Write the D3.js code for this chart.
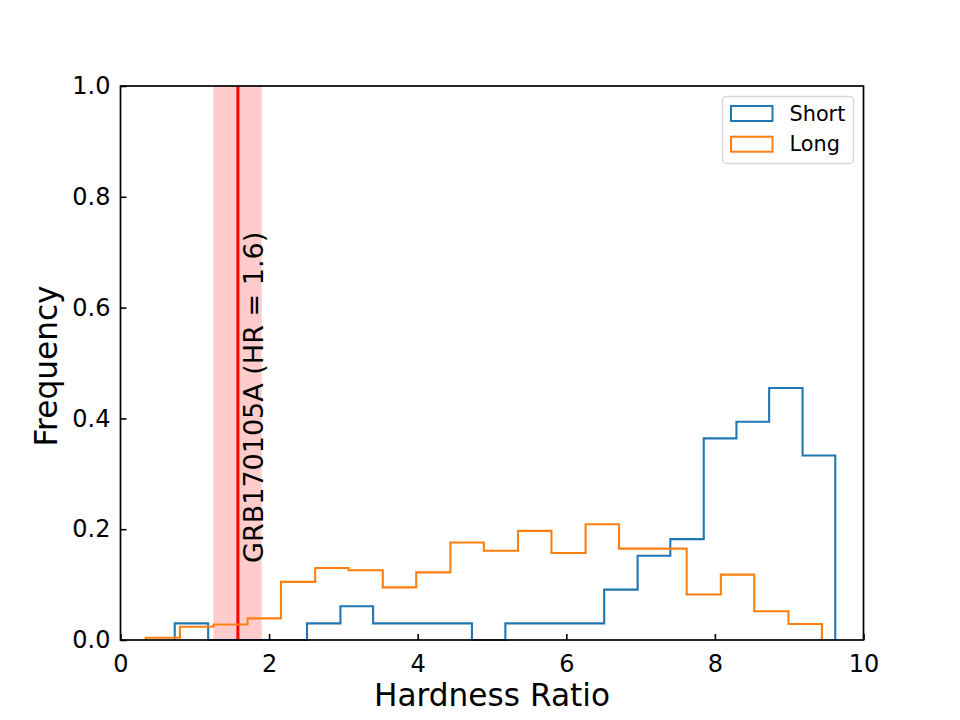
<!DOCTYPE html>
<html>
<head>
<meta charset="utf-8">
<script src="https://cdn.jsdelivr.net/npm/d3@7"></script>
<style>
  body { margin: 0; background: #fff; }
  svg text { font-family: "DejaVu Sans", sans-serif; fill: #000; }
</style>
</head>
<body>
<div class="chart"></div>
<script>
// data
var shortEdges = [0.73, 1.18, 1.62, 2.07, 2.51, 2.96, 3.40, 3.85, 4.29, 4.73, 5.18,
                  5.62, 6.07, 6.51, 6.96, 7.40, 7.85, 8.29, 8.73, 9.18, 9.62];
var shortFreq = [0.030, 0, 0, 0, 0.030, 0.061, 0.030, 0.030, 0.030, 0,
                 0.030, 0.030, 0.030, 0.091, 0.152, 0.182, 0.364, 0.394, 0.455, 0.333];

var longEdges = [0.34, 0.80, 1.25, 1.71, 2.16, 2.62, 3.07, 3.53, 3.98, 4.44, 4.89,
                 5.35, 5.80, 6.26, 6.71, 7.17, 7.62, 8.08, 8.53, 8.99, 9.44];
var longFreq = [0.004, 0.024, 0.028, 0.039, 0.105, 0.130, 0.126, 0.095, 0.122, 0.176,
                0.161, 0.197, 0.157, 0.209, 0.165, 0.165, 0.082, 0.118, 0.052, 0.029];

var grbHR = 1.58;
var grbBand = [1.25, 1.90];
var grbLabel = "GRB170105A (HR = 1.6)";

var xTicks = [0, 2, 4, 6, 8, 10];
var yTicks = [0, 0.2, 0.4, 0.6, 0.8, 1.0];

var series = [
  { name: "Short", edges: shortEdges, values: shortFreq, color: "#1f77b4" },
  { name: "Long", edges: longEdges, values: longFreq, color: "#ff7f0e" }
];

// chart set up
var svgWidth = 960;
var svgHeight = 720;
var margin = { top: 86, right: 96.5, bottom: 80, left: 120.5 };
var width = svgWidth - margin.left - margin.right;
var height = svgHeight - margin.top - margin.bottom;

var svg = d3.select(".chart")
  .append("svg")
  .attr("width", svgWidth)
  .attr("height", svgHeight);

var chart = svg.append("g")
  .attr("transform", "translate(" + margin.left + "," + margin.top + ")");

var xScale = d3.scaleLinear().domain([0, 10]).range([0, width]);
var yScale = d3.scaleLinear().domain([0, 1]).range([height, 0]);

// shaded band + red line
chart.append("rect")
  .attr("x", xScale(grbBand[0]))
  .attr("y", 0)
  .attr("width", xScale(grbBand[1]) - xScale(grbBand[0]))
  .attr("height", height)
  .attr("fill", "#ff0000")
  .attr("fill-opacity", 0.2);

chart.append("line")
  .attr("x1", xScale(grbHR))
  .attr("x2", xScale(grbHR))
  .attr("y1", 0)
  .attr("y2", height)
  .attr("stroke", "#ff0000")
  .attr("stroke-width", 3);

// step histograms
function stepPoints(edges, values) {
  var pts = [[edges[0], 0]];
  values.forEach(function(v, i) {
    pts.push([edges[i], v]);
    pts.push([edges[i + 1], v]);
  });
  pts.push([edges[edges.length - 1], 0]);
  return pts;
}

var line = d3.line()
  .x(function(d) { return xScale(d[0]); })
  .y(function(d) { return yScale(d[1]); });

series.forEach(function(s) {
  chart.append("path")
    .datum(stepPoints(s.edges, s.values))
    .attr("d", line)
    .attr("fill", "none")
    .attr("stroke", s.color)
    .attr("stroke-width", 2.1)
    .attr("stroke-linejoin", "miter");
});

// annotation text
chart.append("text")
  .attr("transform", "translate(" + (xScale(1.92)) + "," + yScale(0.139) + ") rotate(-90)")
  .attr("font-size", "27px")
  .attr("text-anchor", "start")
  .text(grbLabel);

// axes (ticks pointing inward)
var bottomAxis = d3.axisBottom(xScale).tickValues(xTicks).tickSize(-6).tickPadding(10)
  .tickFormat(d3.format("d"));
var leftAxis = d3.axisLeft(yScale).tickValues(yTicks).tickSize(-6).tickPadding(10)
  .tickFormat(d3.format(".1f"));

var gx = chart.append("g")
  .attr("transform", "translate(0," + height + ")")
  .call(bottomAxis);
gx.selectAll("text").attr("font-size", "24px").attr("dy", "0.9em")
  .attr("font-family", "DejaVu Sans");

var gy = chart.append("g").call(leftAxis);
gy.selectAll("text").attr("font-size", "24px").attr("font-family", "DejaVu Sans");

[gx, gy].forEach(function(g) {
  g.select(".domain").remove();
  g.selectAll(".tick line").attr("stroke", "#000").attr("stroke-width", 1.6);
});

// frame
chart.append("rect")
  .attr("x", 0).attr("y", 0)
  .attr("width", width).attr("height", height)
  .attr("fill", "none")
  .attr("stroke", "#000")
  .attr("stroke-width", 1.7);

// axis labels
svg.append("text")
  .attr("x", margin.left + width / 2)
  .attr("y", 705.5)
  .attr("text-anchor", "middle")
  .attr("font-size", "31.2px")
  .text("Hardness Ratio");

svg.append("text")
  .attr("transform", "translate(57," + (margin.top + height / 2 + 3) + ") rotate(-90)")
  .attr("text-anchor", "middle")
  .attr("font-size", "31.2px")
  .text("Frequency");

// legend
var legend = svg.append("g").attr("transform", "translate(722.5,96.5)");
legend.append("rect")
  .attr("width", 131).attr("height", 67)
  .attr("rx", 4)
  .attr("fill", "#fff").attr("fill-opacity", 0.8)
  .attr("stroke", "#d6d6d6").attr("stroke-width", 1.5);

var items = legend.selectAll(".item")
  .data(series)
  .enter()
  .append("g")
  .attr("transform", function(d, i) { return "translate(0," + (i * 30.7) + ")"; });

items.append("rect")
  .attr("x", 8.5).attr("y", 9.5)
  .attr("width", 41.5).attr("height", 15)
  .attr("fill", "none")
  .attr("stroke", function(d) { return d.color; })
  .attr("stroke-width", 2);

items.append("text")
  .attr("x", 67)
  .attr("y", 24)
  .attr("font-size", "20.8px")
  .text(function(d) { return d.name; });
</script>
</body>
</html>
